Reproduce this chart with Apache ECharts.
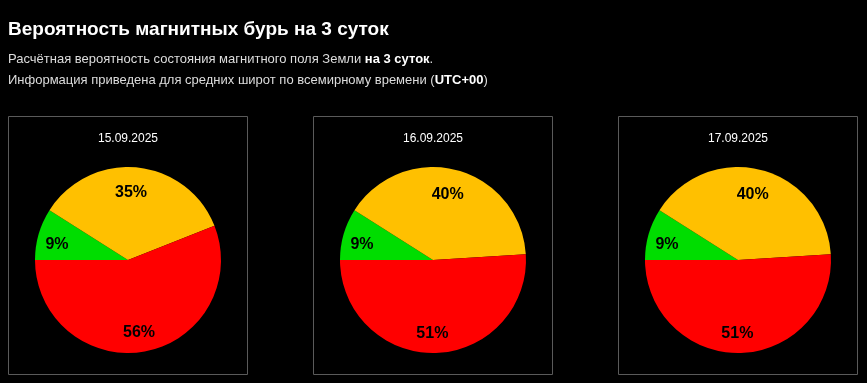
<!DOCTYPE html>
<html>
<head>
<meta charset="utf-8">
<script src="https://cdn.jsdelivr.net/npm/echarts@6/dist/echarts.min.js"></script>
<style>
html,body{margin:0;padding:0;background:#000;}
#c{width:867px;height:383px;}
</style>
</head>
<body>
<div id="c"></div>
<script>
var dates = ['15.09.2025', '16.09.2025', '17.09.2025'];
var categories = ['Спокойно', 'Возмущение', 'Буря'];
var green = [9, 9, 9];
var yellow = [35, 40, 40];
var red = [56, 51, 51];
var colors = ['#00dd00', '#ffc000', '#ff0000'];
var labelOffsets = [[1, 6], [-4, 7], [-3, -1]];

var FONT = '"Liberation Sans", Arial, sans-serif';
var panelLeft = [8, 313, 618];
var panelW = 239, panelTop = 116, panelH = 258;
var cy = 260, R = 93;

var richStyles = {
  a: { color: '#dddddd', fontSize: 13, fontWeight: 'normal', fontFamily: FONT },
  b: { color: '#ffffff', fontSize: 13, fontWeight: 'bold', fontFamily: FONT }
};
var titles = [
  { text: 'Вероятность магнитных бурь на 3 суток', left: 8, top: 20, padding: 0,
    textStyle: { color: '#fff', fontSize: 19, fontWeight: 'bold', fontFamily: FONT } },
  { text: '{a|Расчётная вероятность состояния магнитного поля Земли }{b|на 3 суток}{a|.}', left: 8, top: 53, padding: 0,
    textStyle: { fontWeight: 'normal', rich: richStyles } },
  { text: '{a|Информация приведена для средних широт по всемирному времени (}{b|UTC+00}{a|)}', left: 8, top: 74, padding: 0,
    textStyle: { fontWeight: 'normal', rich: richStyles } }
];
var graphics = [];
var series = [];
dates.forEach(function (d, i) {
  var cx = panelLeft[i] + 120;
  titles.push({ text: d, left: cx, top: 133, padding: 0, textAlign: 'center',
    textStyle: { color: '#fff', fontSize: 12, fontWeight: 'normal', fontFamily: FONT } });
  graphics.push({ type: 'rect', shape: { x: panelLeft[i] + 0.5, y: panelTop + 0.5, width: panelW, height: panelH },
    style: { fill: 'none', stroke: '#5a5a5a', lineWidth: 1 }, silent: true });
  var values = [green[i], yellow[i], red[i]];
  series.push({ type: 'pie', center: [cx, cy], radius: [0, R], startAngle: 180, clockwise: true,
    label: { show: false }, labelLine: { show: false }, silent: true, animation: false,
    itemStyle: { borderWidth: 0 },
    data: values.map(function (v, k) { return { name: categories[k], value: v, itemStyle: { color: colors[k] } }; }) });
  series.push({ type: 'pie', center: [cx, cy], radius: [51, R], startAngle: 180, clockwise: true,
    silent: true, animation: false, z: 5,
    itemStyle: { color: 'rgba(0,0,0,0)', borderWidth: 0 },
    label: { show: true, position: 'inside', formatter: '{c}%', color: '#000', fontSize: 16, fontWeight: 'bold', fontFamily: FONT },
    labelLine: { show: false },
    data: values.map(function (v, k) { return { name: categories[k], value: v, label: { offset: labelOffsets[k] } }; }) });
});

var chart = echarts.init(document.getElementById('c'), null, { renderer: 'canvas' });
chart.setOption({
  backgroundColor: '#000',
  animation: false,
  title: titles,
  graphic: graphics,
  series: series
});
</script>
</body>
</html>
